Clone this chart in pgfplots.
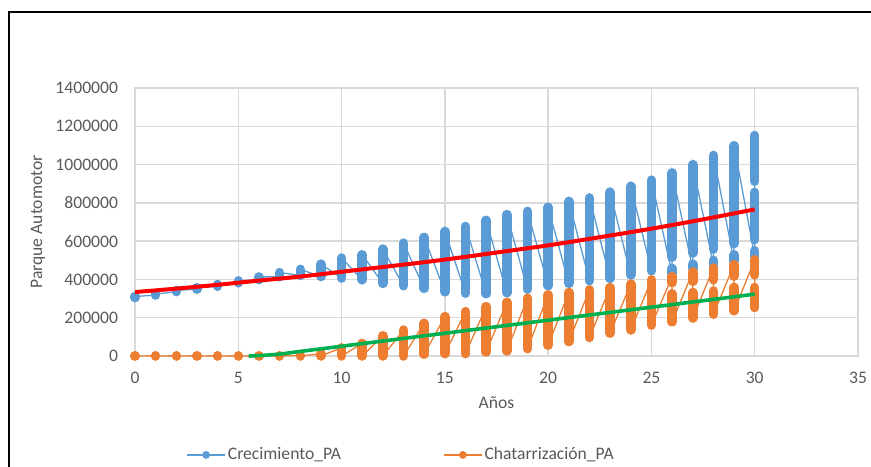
\documentclass[border=0pt]{standalone}
\usepackage{pgfplots}
\pgfplotsset{compat=1.18}
\usepackage{pgfplotstable}
\usepackage{fontspec}
\setmainfont{Carlito}
\definecolor{cblue}{HTML}{5B9BD5}
\definecolor{corange}{HTML}{ED7D31}
\definecolor{cred}{HTML}{FF0000}
\definecolor{cgreen}{HTML}{00B050}
\definecolor{cgrid}{HTML}{D9D9D9}
\definecolor{ctext}{HTML}{595959}

% Crecimiento_PA: column extent (lo..hi) of the simulated values per year
\pgfplotstableread{
x lo hi
0 305000 311000
1 318000 323000
2 336000 343000
3 349000 357000
4 364000 374000
5 382000 393000
6 399000 413000
7 414000 436000
8 421000 453000
9 415000 480000
10 407000 512000
11 398000 529000
12 379000 559000
13 367000 590000
14 353000 620000
15 335000 651000
16 328000 677000
17 325000 709000
18 330000 739000
19 349000 756000
20 367000 777000
21 379000 808000
22 393000 826000
23 405000 856000
24 423000 887000
25 445000 919000
26 430000 458000
26 516000 957000
27 455000 480000
27 538000 1000000
28 475000 500000
28 558000 1048000
29 495000 529000
29 587000 1099000
30 520000 550000
30 608000 855000
30 913000 1152000
}\bluecols

% Crecimiento_PA: order in which the points are joined
\pgfplotstableread{
x y
0 305000
0 311000
1 318000
1 323000
2 336000
2 343000
3 349000
3 357000
4 364000
4 374000
5 382000
5 393000
6 399000
6 413000
7 414000
7 436000
8 421000
8 453000
9 415000
9 480000
10 407000
10 512000
11 398000
11 529000
12 379000
12 559000
13 367000
13 590000
14 353000
14 620000
15 335000
15 651000
16 328000
16 677000
17 325000
17 709000
18 330000
18 739000
19 349000
19 756000
20 367000
20 777000
21 379000
21 808000
22 393000
22 826000
23 405000
23 856000
24 423000
24 887000
25 445000
25 919000
26 430000
26 458000
26 516000
26 957000
27 455000
27 480000
27 538000
27 1000000
28 475000
28 500000
28 558000
28 1048000
29 495000
29 529000
29 587000
29 1099000
30 520000
30 550000
30 608000
30 855000
30 913000
30 1152000
}\bluepath

% Chatarrizacion_PA: column extent per year
\pgfplotstableread{
x lo hi
0 0 1000
1 0 1000
2 0 1000
3 0 1000
4 0 1000
5 0 1000
6 0 1000
7 0 1000
8 0 3000
9 0 12000
10 0 43000
11 0 66000
12 0 106000
13 0 136000
14 9000 171000
15 12000 206000
16 12000 232000
17 21000 258000
18 26000 281000
19 38000 302000
20 56000 320000
21 75000 332000
22 96000 346000
23 119000 358000
24 136000 376000
25 161000 398000
26 178000 325000
26 383000 415000
27 198000 332000
27 390000 439000
28 218000 340000
28 398000 460000
29 236000 359000
29 417000 477000
30 253000 358000
30 424000 503000
}\orangecols

\pgfplotstableread{
x y
0 1000
0 0
1 1000
1 0
2 1000
2 0
3 1000
3 0
4 1000
4 0
5 1000
5 0
6 1000
6 0
7 1000
7 0
8 3000
8 0
9 12000
9 0
10 43000
10 0
11 66000
11 0
12 106000
12 0
13 136000
13 0
14 171000
14 9000
15 206000
15 12000
16 232000
16 12000
17 258000
17 21000
18 281000
18 26000
19 302000
19 38000
20 320000
20 56000
21 332000
21 75000
22 346000
22 96000
23 358000
23 119000
24 376000
24 136000
25 398000
25 161000
26 415000
26 383000
26 325000
26 178000
27 439000
27 390000
27 332000
27 198000
28 460000
28 398000
28 340000
28 218000
29 477000
29 417000
29 359000
29 236000
30 503000
30 424000
30 358000
30 253000
}\orangepath

\pgfplotstableread{
x y
0 334000
2 352000
4 372000
6 394000
8 415000
10 440000
12 465000
14 490000
16 518000
18 548000
20 578000
22 612000
24 647000
26 684000
28 724000
30 766000
}\redline

\pgfplotstableread{
x y
5.5 0
6 2000
7 10000
8 24000
10 51000
15 119000
20 187000
25 255000
30 323000
}\greenline

\newcommand{\lblfont}{\fontsize{8.8pt}{10pt}\selectfont}

\begin{document}
\begin{tikzpicture}
\path[use as bounding box] (0,0) rectangle (435.5pt,-233pt);
\draw[black, line width=1pt] (4.25pt,-240pt) -- (4.25pt,-5.75pt) -- (440pt,-5.75pt);
\begin{axis}[
  at={(67.5pt,-178pt)}, anchor=south west,
  scale only axis, width=361.5pt, height=134pt,
  xmin=0, xmax=35, ymin=0, ymax=1400000,
  xtick={0,5,...,35},
  ytick={0,200000,400000,600000,800000,1000000,1200000,1400000},
  scaled y ticks=false,
  /pgf/number format/assume math mode=true,
  yticklabel style={/pgf/number format/fixed, /pgf/number format/1000 sep={}, xshift=-5pt},
  xticklabel style={yshift=-4.5pt},
  tick label style={font=\lblfont, text=ctext},
  grid=major, major grid style={color=cgrid, line width=0.75pt},
  axis line style={color=cgrid, line width=0.75pt},
  tick style={draw=none},
  clip=false,
  legend style={at={(0.0705,-0.369)}, anchor=west, draw=none, fill=none,
    inner sep=0pt, font=\lblfont, text=ctext, legend columns=2,
    nodes={inner sep=1pt},
    /tikz/every even column/.append style={column sep=50pt}},
  legend cell align=left,
  legend image code/.code={\draw[line width=0.75pt] (0pt,0pt) -- (19pt,0pt);
    \fill (9.5pt,0pt) circle (1.6pt);},
]
\addplot[color=cblue, line width=0.65pt] table[x=x, y=y] {\bluepath};
\addlegendentry{Crecimiento\_PA}
\addplot[forget plot, draw=none, mark=none,
  error bars/.cd, y dir=both, y explicit, error mark=none,
  error bar style={draw=cblue, line width=4.75pt, line cap=round}]
  table[x=x, y expr=(\thisrow{lo}+\thisrow{hi})/2,
        y error expr=(\thisrow{hi}-\thisrow{lo})/2] {\bluecols};
\addplot[color=corange, line width=0.65pt] table[x=x, y=y] {\orangepath};
\addlegendentry{Chatarrización\_PA}
\addplot[forget plot, draw=none, mark=none,
  error bars/.cd, y dir=both, y explicit, error mark=none,
  error bar style={draw=corange, line width=4.75pt, line cap=round}]
  table[x=x, y expr=(\thisrow{lo}+\thisrow{hi})/2,
        y error expr=(\thisrow{hi}-\thisrow{lo})/2] {\orangecols};
\addplot[forget plot, color=cred, line width=2pt, smooth] table[x=x, y=y] {\redline};
\addplot[forget plot, color=cgreen, line width=1.8pt, smooth] table[x=x, y=y] {\greenline};
\end{axis}
\node[rotate=90, font=\lblfont, text=ctext] at (19pt,-111pt) {Parque Automotor};
\node[font=\lblfont, text=ctext] at (248.25pt,-201.5pt) {Años};
\end{tikzpicture}
\end{document}
